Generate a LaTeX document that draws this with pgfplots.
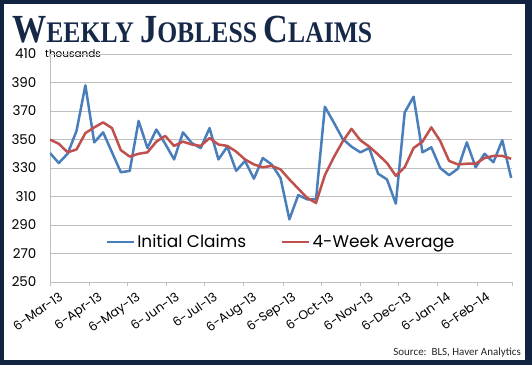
\documentclass[border=0pt]{standalone}
\usepackage{fontspec}
\setmainfont{Poppins}
\newfontfamily\titlefont{Liberation Serif}
\newfontfamily\srcfont{Carlito}
\usepackage{pgfplots}
\pgfplotsset{compat=1.18}
\definecolor{navy}{RGB}{16,36,66}
\definecolor{ttl}{RGB}{22,40,72}
\definecolor{xlblue}{RGB}{74,126,187}
\definecolor{xlred}{RGB}{192,80,77}
\definecolor{gridgray}{RGB}{191,191,191}
\newcommand{\TBig}{\fontsize{40}{40}\selectfont}
\newcommand{\TSm}{\fontsize{30}{30}\selectfont}
\begin{document}
\begin{tikzpicture}[x=1bp,y=1bp]
\fill[navy] (0,0) rectangle (532,365);
\fill[white] (4,5) rectangle (525,361);
\node[anchor=base west, inner sep=0pt, text=ttl] at (12,323)
  {\resizebox{360bp}{\height}{\titlefont\bfseries\TBig W\TSm EEKLY \TBig J\TSm OBLESS \TBig C\TSm LAIMS}};
\node[anchor=west, inner sep=0pt, font=\fontsize{10.5}{10.5}\selectfont] at (45,311) {thousands};
\begin{axis}[
  at={(49.9bp,83bp)}, anchor=south west,
  scale only axis, width=462.5bp, height=228bp,
  xmin=0, xmax=365, ymin=250, ymax=410,
  axis lines*=left,
  axis line style={gridgray, line width=0.8bp},
  ytick={250,270,...,410},
  ymajorgrids, grid style={gridgray, line width=0.8bp},
  xtick={0,31,61,92,122,153,184,214,245,275,306,337,365},
  xticklabels={6-Mar-13,6-Apr-13,6-May-13,6-Jun-13,6-Jul-13,6-Aug-13,6-Sep-13,6-Oct-13,6-Nov-13,6-Dec-13,6-Jan-14,6-Feb-14,{}},
  tick align=outside, major tick length=4bp,
  xtick style={gridgray, line width=0.8bp},
  ytick style={draw=none},
  xticklabel style={rotate=35, anchor=north east, inner sep=0pt, xshift=4bp, yshift=-9bp, font=\fontsize{12.5}{12.5}\selectfont},
  yticklabel style={font=\fontsize{13.5}{13.5}\selectfont, xshift=-6bp},
  /pgf/number format/assume math mode=true,
  legend style={at={(0.5,0.175)}, anchor=center, draw=none, fill=none,
    legend columns=2, font=\fontsize{17}{17}\selectfont,
    /tikz/every even column/.append style={column sep=33bp}},
  legend image code/.code={\draw[#1] (0bp,0bp) -- (27bp,0bp);},
]
\addplot[xlblue, line width=2.5bp, line join=round] table {
x y
0 340.5
7 333.5
14 340
21 356
28 388
35 348
42 355
49 341
56 327
63 328
70 363
77 344
84 357
91 347
98 336
105 355
112 347.5
119 344
126 358
133 336
140 345
147 328
154 335
161 322.5
168 337
175 332.5
182 323
189 294
196 311
203 308
210 308
217 373
224 362
231 350.5
238 345
245 341
252 344
259 326
266 322
273 305
280 369
287 380
294 341
301 344.5
308 330
315 325
322 329.5
329 348
336 330.5
343 340
350 334
357 349.5
364 323
};
\addlegendentry{Initial Claims}
\addplot[xlred, line width=2.5bp, line join=round] table {
x y
0 350
7 347
14 341
21 343
28 354.5
35 358.5
42 362
49 358
56 342.5
63 338
70 340
77 341
84 348.5
91 352.5
98 345.5
105 348.5
112 346.5
119 345.5
126 351
133 346.5
140 345.5
147 341.5
154 336
161 332.5
168 330.5
175 331.5
182 329
189 322
196 315.5
203 309
210 305.5
217 325
224 337.5
231 348.5
238 357.5
245 349.5
252 345
259 339.5
266 333.5
273 324.5
280 330.5
287 344
294 348.5
301 358.5
308 349
315 335
322 332.5
329 333
336 333
343 337
350 338.5
357 338.5
364 336.5
};
\addlegendentry{4-Week Average}
\end{axis}
\node[anchor=base east, inner sep=0pt, font=\srcfont\fontsize{11}{11}\selectfont, text=black!85] at (521,10) {Source:\ \ BLS, Haver Analytics};
\pgfresetboundingbox
\path (0,0) rectangle (532,365);
\end{tikzpicture}
\end{document}
